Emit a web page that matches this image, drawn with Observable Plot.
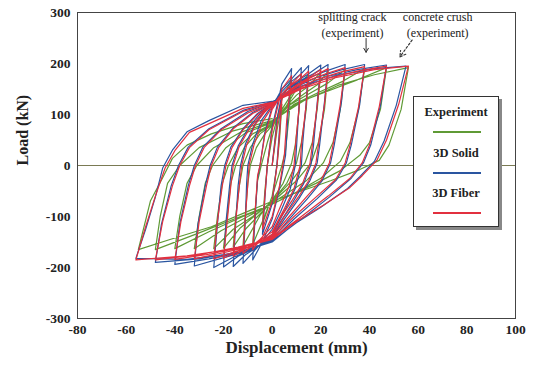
<!DOCTYPE html>
<html><head><meta charset="utf-8">
<script src="https://cdn.jsdelivr.net/npm/d3@7"></script>
<script src="https://cdn.jsdelivr.net/npm/@observablehq/plot@0.6"></script>
<style>
body{margin:0;background:#fff;}
#wrap{position:relative;width:537px;height:367px;}
#legend{position:absolute;left:413px;top:96px;width:84px;height:129px;background:#fff;border:1px solid #333;box-shadow:3px 3px 0 #888;font-family:"Liberation Serif",serif;font-weight:bold;font-size:12.5px;color:#222;}
#legend .t{position:absolute;left:0;width:84px;text-align:center;}
#legend .l{position:absolute;left:19px;width:48px;height:1.5px;}
</style></head>
<body><div id="wrap"></div>
<script>
const xTicks = [-80,-60,-40,-20,0,20,40,60,80,100];
const yTicks = [-300,-200,-100,0,100,200,300];
const seriesNames = ["Experiment","3D Solid","3D Fiber"];
const seriesColors = ["#5f9a35","#2a55a0","#e2303f"];

const expCycles = [
 [[0,0],[2,70],[4,120],[3,50],[2,0],[0,-60],[-4,-115],[-3,-50],[-2,0],[0,55]],
 [[4,130],[8,170],[7,100],[5.5,30],[4,0],[0,-60],[-4,-110],[-8,-155],[-7,-90],[-6,-30],[-4.5,0],[-2,45],[0,75]],
 [[4,110],[8,140],[12,175],[11,105],[9.5,40],[8,5],[4.5,-35],[0,-68],[-5,-98],[-12,-158],[-11,-95],[-10,-35],[-9,0],[-6.5,35],[-3,62],[0,78]],
 [[5,110],[10,150],[15,180],[14,110],[12,45],[10,5],[6,-35],[0,-70],[-6,-100],[-11,-125],[-16,-160],[-15,-100],[-13.5,-40],[-12,0],[-9,35],[-5,62],[0,80]],
 [[5,112],[10,138],[15,156],[20,183],[18.5,110],[16.5,45],[13.5,5],[8,-30],[3,-55],[0,-70],[-7,-98],[-13,-122],[-20,-162],[-18.5,-100],[-17,-35],[-15,0],[-11.5,35],[-6.5,62],[0,81]],
 [[6,115],[13,140],[19,160],[23,185],[21.5,110],[19,45],[16,5],[10,-30],[4,-55],[0,-72],[-8,-100],[-16,-125],[-24,-163],[-22.5,-100],[-20.5,-35],[-18,0],[-14,35],[-8,62],[0,82]],
 [[7,118],[15,140],[23,162],[30,188],[28,110],[25,45],[21,5],[14,-30],[6,-55],[0,-74],[-10,-100],[-21,-128],[-32,-163],[-30,-100],[-27.5,-35],[-24.5,0],[-19,35],[-11,64],[0,84]],
 [[9,120],[19,143],[29,165],[38,190],[35.5,110],[32,45],[28,8],[20,-25],[9,-55],[0,-76],[-12,-100],[-26,-130],[-40,-163],[-38,-100],[-35,-35],[-31,0],[-24,35],[-13,65],[0,86]],
 [[11,124],[23,146],[35,168],[47,192],[44.5,110],[40,45],[36,20],[28,-10],[18,-35],[7,-59],[0,-76],[-14,-102],[-30,-132],[-48,-165],[-46,-100],[-43,-35],[-38,0],[-30,35],[-16,68],[0,88]],
 [[13,127],[27,157],[42,178],[56,192],[53,110],[48,40],[44,10],[36,-8],[24,-30],[12,-50],[0,-70],[-10,-90],[-25,-120],[-42,-145],[-55,-165],[-50,-69],[-45,-24],[-41,14],[-35,40],[-25,62],[-12,82],[0,92]]
];

const solidCycles = [
 [[0,0],[2,90],[4,140],[3,70],[2,5],[0,-75],[-4,-135],[-3,-65],[-2,0],[0,75]],
 [[4,160],[8,190],[6.5,100],[5.5,20],[3,-45],[0,-105],[-4,-150],[-8,-185],[-7,-100],[-6,-25],[-5,0],[-3,65],[0,115]],
 [[4,150],[8,170],[12,192],[11,115],[10,35],[9.5,0],[7.5,-45],[3.5,-90],[0,-125],[-5,-155],[-12,-192],[-11,-105],[-10.5,-35],[-10,0],[-8,42],[-4.5,88],[0,118]],
 [[3,140],[8,165],[12,180],[15,196],[14,125],[12.5,40],[12,0],[9.5,-45],[5,-90],[0,-135],[-6,-160],[-11,-175],[-16,-198],[-15,-115],[-14,-40],[-13,0],[-11,42],[-7,82],[-3,108],[0,120]],
 [[5,145],[10,165],[15,180],[20,197],[18.5,122],[17,40],[16,3],[13,-35],[8.5,-72],[3.5,-110],[0,-140],[-7,-162],[-14,-178],[-20,-199],[-19,-112],[-17.5,-40],[-16.5,0],[-14,38],[-9.5,76],[-4.5,104],[0,121]],
 [[5,145],[11,165],[17,180],[23,198],[21.5,125],[19.5,40],[18.5,5],[15.5,-30],[11,-65],[5,-105],[0,-142],[-8,-165],[-16,-180],[-24,-200],[-22.5,-115],[-21,-40],[-19.5,0],[-17,36],[-12,72],[-6,102],[0,122]],
 [[6,148],[14,170],[22,185],[30,198],[28.5,125],[25.5,40],[24,5],[20.5,-30],[14.5,-65],[7,-105],[0,-145],[-10,-168],[-21,-182],[-32,-197],[-30.5,-115],[-27.5,-40],[-25.5,0],[-22.5,36],[-16,74],[-8,104],[0,122]],
 [[8,150],[18,172],[28,187],[38,198],[36,120],[32.5,40],[30.5,5],[26.5,-28],[18.5,-65],[9,-105],[0,-147],[-12,-170],[-26,-183],[-40,-194],[-38,-115],[-34.5,-40],[-32,0],[-28.5,36],[-21,72],[-10,106],[0,124]],
 [[10,152],[22,174],[35,188],[47,197],[44.5,118],[40.5,40],[37.5,5],[32.5,-25],[23.5,-62],[12,-105],[0,-148],[-14,-170],[-30,-183],[-48,-190],[-45.5,-115],[-41.5,-40],[-38.5,0],[-34.5,36],[-26,72],[-12,108],[0,125]],
 [[12,155],[26,176],[42,190],[55,195],[51,118],[46,48],[42,8],[36,-22],[31,-45],[20,-82],[9,-115],[0,-150],[-15,-172],[-35,-184],[-56,-182],[-52,-125],[-48,-62],[-45,-5],[-41,30],[-35,66],[-26,88],[-12,118],[0,126]]
];

const fiberCycles = [
 [[0,0],[2,80],[4,130],[3,60],[2,0],[0,-70],[-4,-125],[-3,-60],[-2,0],[0,70]],
 [[4,150],[8,176],[6,90],[5,20],[3,-40],[0,-100],[-4,-140],[-8,-165],[-7,-90],[-6,-20],[-5,0],[-3,60],[0,110]],
 [[4,140],[8,160],[12,180],[11,110],[9.5,35],[9,0],[7,-40],[3,-85],[0,-120],[-5,-145],[-12,-172],[-11,-100],[-10,-35],[-9.5,0],[-7.5,40],[-4,85],[0,115]],
 [[3,135],[8,158],[12,172],[15,185],[14,120],[12,40],[11.5,0],[9,-45],[5,-85],[0,-130],[-6,-150],[-11,-163],[-16,-178],[-15,-110],[-13.5,-40],[-12.5,0],[-10.5,40],[-7,80],[-3,105],[0,118]],
 [[5,140],[10,158],[15,172],[20,188],[18.5,118],[16.5,40],[15.5,3],[12.5,-35],[8,-70],[3,-105],[0,-135],[-7,-155],[-14,-168],[-20,-182],[-18.5,-110],[-17,-40],[-16,0],[-13.5,38],[-9,75],[-4,103],[0,119]],
 [[5,140],[11,160],[17,175],[23,190],[21.5,120],[19,40],[18,5],[15,-30],[11,-60],[5,-100],[0,-138],[-8,-158],[-16,-170],[-24,-183],[-22.5,-110],[-20.5,-40],[-19,0],[-16.5,35],[-12,70],[-6,100],[0,120]],
 [[6,142],[14,165],[22,180],[30,192],[28,120],[25,40],[23.5,5],[20,-30],[14,-62],[7,-100],[0,-140],[-10,-160],[-21,-172],[-32,-183],[-30,-110],[-27,-40],[-25,0],[-22,35],[-16,72],[-8,102],[0,120]],
 [[8,145],[18,168],[28,183],[38,194],[35.5,115],[32,40],[30,5],[26,-28],[18,-62],[9,-100],[0,-142],[-12,-160],[-26,-174],[-40,-184],[-37.5,-110],[-34,-40],[-31.5,0],[-28,35],[-21,70],[-10,103],[0,122]],
 [[10,148],[22,170],[35,185],[47,195],[44,115],[40,40],[37,5],[32,-25],[23,-60],[12,-100],[0,-143],[-14,-160],[-30,-175],[-48,-185],[-45,-110],[-41,-40],[-38,0],[-34,35],[-26,70],[-12,106],[0,123]],
 [[12,150],[26,172],[42,188],[56,195],[52,120],[47,50],[43,10],[37,-20],[32,-43],[21,-78],[10,-110],[0,-145],[-15,-163],[-35,-177],[-56,-185],[-52,-120],[-48,-60],[-44,-5],[-40,29],[-34,65],[-25,84],[-12,112],[0,124]]
];

const notes = [
 {x:33, y:291, text:"splitting crack"},
 {x:33, y:259, text:"(experiment)"},
 {x:68, y:291, text:"concrete crush"},
 {x:68, y:259, text:"(experiment)"}
];
const arrowSolid = [{x1:38.6, y1:249, x2:38.6, y2:222}];
const arrowDash = [{x1:57.5, y1:246, x2:52.5, y2:213}];

const allCycles = [expCycles, solidCycles, fiberCycles];
const rows = [];
allCycles.forEach((cycles, s) => {
  cycles.forEach(c => c.forEach(([x,y]) => rows.push({x, y, s: seriesNames[s]})));
});

const font = "'Liberation Serif','Times New Roman',serif";
const fmt = d => String(d);
const chart = Plot.plot({
  width: 537, height: 367,
  marginLeft: 77, marginRight: 22, marginTop: 12, marginBottom: 49,
  style: {fontFamily: font, fontWeight: "bold", fontSize: "13.5px", color: "#222", background: "#fff"},
  x: {domain: [-80, 100], ticks: xTicks, tickFormat: fmt, tickSize: 0, tickPadding: 6, label: null},
  y: {domain: [-300, 300], ticks: yTicks, tickFormat: fmt, tickSize: 0, tickPadding: 7, label: null},
  color: {domain: seriesNames, range: seriesColors},
  marks: [
    Plot.ruleY([0], {stroke: "#6b6b40", strokeWidth: 0.9}),
    Plot.line(rows, {x: "x", y: "y", z: "s", stroke: "s", strokeWidth: 1.2, strokeLinejoin: "round"}),
    Plot.frame({stroke: "#444", strokeWidth: 1}),
    Plot.text(notes, {x: "x", y: "y", text: "text", fontSize: 12, fontWeight: "normal", fill: "#222"}),
    Plot.arrow(arrowSolid, {x1: "x1", y1: "y1", x2: "x2", y2: "y2", stroke: "#333", strokeWidth: 1, headLength: 7}),
    Plot.arrow(arrowDash, {x1: "x1", y1: "y1", x2: "x2", y2: "y2", stroke: "#333", strokeWidth: 1.2, strokeDasharray: "2,2", headLength: 8}),
    Plot.text(["Displacement (mm)"], {frameAnchor: "bottom", dy: 34, fontSize: 17, fontWeight: "bold", fill: "#222"}),
    Plot.text(["Load (kN)"], {frameAnchor: "left", dx: -55, rotate: -90, fontSize: 16, fontWeight: "bold", fill: "#222"})
  ]
});
const wrap = document.getElementById("wrap");
wrap.appendChild(chart);
const lg = document.createElement("div");
lg.id = "legend";
const tops = [8, 49, 89];
seriesNames.forEach((n, i) => {
  const t = document.createElement("div");
  t.className = "t"; t.textContent = n; t.style.top = tops[i] + "px";
  const l = document.createElement("div");
  l.className = "l"; l.style.top = (tops[i] + 26) + "px"; l.style.background = seriesColors[i];
  lg.appendChild(t); lg.appendChild(l);
});
wrap.appendChild(lg);
</script></body></html>
